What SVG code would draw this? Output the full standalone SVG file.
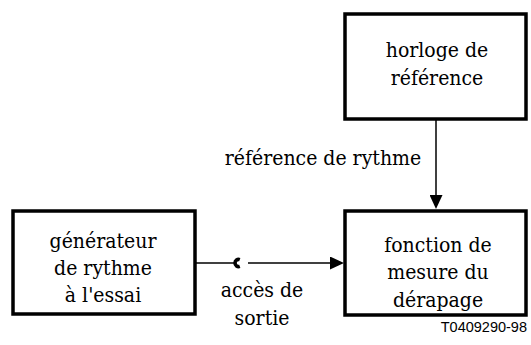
<svg xmlns="http://www.w3.org/2000/svg" width="531" height="345" viewBox="0 0 531 345">
<style>
.box{fill:#fff;stroke:#000;stroke-width:3.5}
.t{font-family:'DejaVu Serif Condensed','DejaVu Serif',serif;font-stretch:condensed;font-size:21px;fill:#000;text-anchor:middle}
.ln{stroke:#000;stroke-width:1.5;fill:none}
.id{font-family:'Liberation Sans',Arial,sans-serif;font-size:14.5px;fill:#000;text-anchor:end}
</style>
<defs>
<marker id="arr" viewBox="0 0 14 13" refX="4" refY="6.5" markerWidth="14" markerHeight="13" markerUnits="userSpaceOnUse" orient="auto">
<path d="M0,0 L14,6.5 L0,13 Z" fill="#000"/>
</marker>
</defs>
<rect width="531" height="345" fill="#fff"/>
<g id="horloge">
<rect class="box" x="345" y="14" width="181" height="105"/>
<text class="t" x="437" y="57">horloge de</text>
<text class="t" x="437" y="85">référence</text>
</g>
<g id="generateur">
<rect class="box" x="13" y="211" width="182" height="103"/>
<text class="t" x="103" y="248">générateur</text>
<text class="t" x="103" y="275">de rythme</text>
<text class="t" x="103" y="302">à l'essai</text>
</g>
<g id="fonction">
<rect class="box" x="345" y="211" width="181" height="104"/>
<text class="t" x="438" y="252">fonction de</text>
<text class="t" x="438" y="279">mesure du</text>
<text class="t" x="438" y="307">dérapage</text>
</g>
<g id="connectors">
<line class="ln" x1="436" y1="120" x2="436" y2="199" marker-end="url(#arr)"/>
<line class="ln" x1="195" y1="263" x2="234" y2="263"/>
<path d="M239.8,259.6 A3.6,3.6 0 1 0 239.8,266.4" fill="none" stroke="#000" stroke-width="3.6"/>
<line class="ln" x1="248" y1="263" x2="334" y2="263" marker-end="url(#arr)"/>
<text class="t" x="323" y="165">référence de rythme</text>
<text class="t" x="262" y="297">accès de</text>
<text class="t" x="262" y="325">sortie</text>
</g>
<text class="id" x="527" y="332">T0409290-98</text>
</svg>
